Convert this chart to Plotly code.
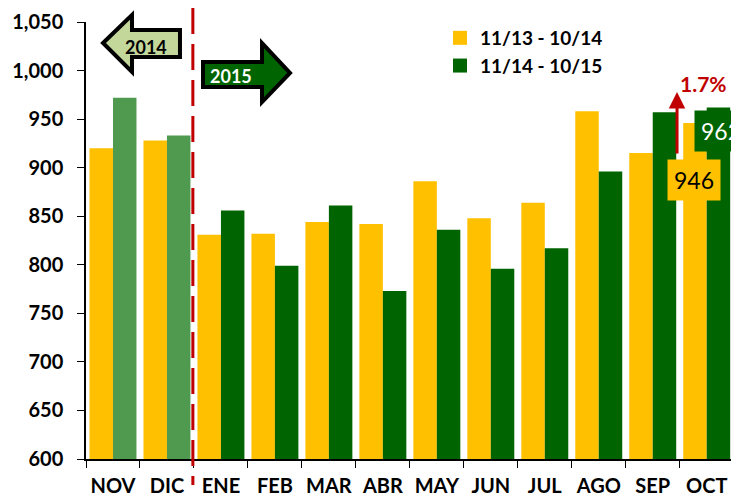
import plotly.graph_objects as go

# datos
meses = ["NOV", "DIC", "ENE", "FEB", "MAR", "ABR", "MAY", "JUN", "JUL", "AGO", "SEP", "OCT"]
periodo_ant = [920, 928, 831, 832, 844, 842, 886, 848, 864, 958, 915, 946]
periodo_act = [972, 933, 856, 799, 861, 773, 836, 796, 817, 896, 957, 962]
nombre_ant = "11/13 - 10/14"
nombre_act = "11/14 - 10/15"
variacion = "1.7%"

AMARILLO = "#FFC000"
VERDE = "#006400"
VERDE_CLARO = "#4F9A4F"
ROJO = "#C00000"
FUENTE = "Lato"

W, H = 731, 498
# area del grafico en pixeles
X0, X1, Y0, Y1 = 86, 731, 22, 459
ML, MT, MB = X0, Y0, H - Y1


def paper(x, y):
    # pixel -> coordenadas paper
    return (x - X0) / (X1 - X0), (Y1 - y) / (Y1 - Y0)


def flecha(puntos):
    p = [paper(x, y) for x, y in puntos]
    return "M " + " L ".join(f"{a:.4f},{b:.4f}" for a, b in p) + " Z"


def texto(px, py, t, size, color, bg=None):
    x, y = paper(px, py)
    d = dict(x=x, y=y, xref="paper", yref="paper", text=t, showarrow=False,
             xanchor="center", yanchor="middle", font=dict(family=FUENTE, size=size, color=color))
    if bg:
        d.update(bgcolor=bg, borderpad=6)
    return d


# verde claro para los meses de 2014
colores_act = [VERDE_CLARO if i < 2 else VERDE for i in range(len(meses))]

fig = go.Figure()
fig.add_trace(go.Bar(x=meses, y=periodo_ant, marker=dict(color=AMARILLO, line=dict(width=0)),
                     showlegend=False))
fig.add_trace(go.Bar(x=meses, y=periodo_act, marker=dict(color=colores_act, line=dict(width=0)),
                     showlegend=False))

# leyenda con cuadrados
for nombre, color in [(nombre_ant, AMARILLO), (nombre_act, VERDE)]:
    fig.add_trace(go.Scatter(x=[None], y=[None], mode="markers", name=nombre,
                             marker=dict(symbol="square", size=14, color=color)))

shapes = []
# linea roja entre 2014 y 2015
shapes.append(dict(type="line", xref="x", yref="paper", x0=1.48, x1=1.48,
                   y0=paper(0, 8)[1], y1=paper(0, 485)[1],
                   line=dict(color=ROJO, width=3, dash="26px,10px")))
# flecha 2014
shapes.append(dict(type="path", xref="paper", yref="paper",
                   path=flecha([(103, 43), (132, 15), (132, 30), (180, 30), (180, 57), (132, 57), (132, 72)]),
                   fillcolor="#C4D79B", line=dict(color="black", width=4)))
# flecha 2015
shapes.append(dict(type="path", xref="paper", yref="paper",
                   path=flecha([(203, 62), (262, 62), (262, 43), (290, 73), (262, 102), (262, 87), (203, 87)]),
                   fillcolor=VERDE, line=dict(color="black", width=4)))

anots = [
    texto(146, 47, "<b>2014</b>", 18, "black"),
    texto(231, 76, "<b>2015</b>", 18, "white"),
    texto(703, 83, "<b>" + variacion + "</b>", 21, ROJO),
    texto(694, 180, str(periodo_ant[-1]), 23, "black", AMARILLO),
    texto(721, 131, str(periodo_act[-1]), 23, "white", VERDE),
]

# flecha roja de variacion
_, yb = paper(0, 92)
anots.append(dict(x=10.45, y=yb, xref="x", yref="paper", ax=0, ay=63,
                  text="", showarrow=True, arrowhead=2, arrowsize=1.1, arrowwidth=3, arrowcolor=ROJO))

lx, ly = paper(440, 19)
fig.update_layout(
    width=W, height=H,
    margin=dict(l=ML, r=0, t=MT, b=MB, pad=0, autoexpand=False),
    paper_bgcolor="white", plot_bgcolor="white",
    barmode="group", bargap=0.13, bargroupgap=0,
    font=dict(family=FUENTE, color="black"),
    shapes=shapes, annotations=anots,
    legend=dict(x=lx, y=ly, xanchor="left", yanchor="top", bgcolor="rgba(0,0,0,0)",
                font=dict(family=FUENTE, size=19, color="black", weight="bold"),
                itemwidth=30, tracegroupgap=0),
    xaxis=dict(range=[-0.5, 11.45], showline=True, linecolor="black", linewidth=1.5,
               ticks="outside", tickson="boundaries", ticklen=7, tickcolor="black",
               tickangle=0, automargin=False, ticklabelstandoff=8,
               tickfont=dict(family=FUENTE, size=20, color="black", weight="bold"),
               showgrid=False, fixedrange=True),
    yaxis=dict(range=[600, 1050], dtick=50, tickformat=",", showline=True, linecolor="black",
               linewidth=1.5, ticks="outside", ticklen=7, tickcolor="black", automargin=False,
               ticklabelstandoff=10,
               tickfont=dict(family=FUENTE, size=20, color="black", weight="bold"),
               showgrid=False, zeroline=False, fixedrange=True),
)

# sin margen ni barras de desplazamiento en la pagina
fig.write_html("out.html", config=dict(displayModeBar=False),
               post_script="document.body.style.margin='0';document.body.style.overflow='hidden';")
